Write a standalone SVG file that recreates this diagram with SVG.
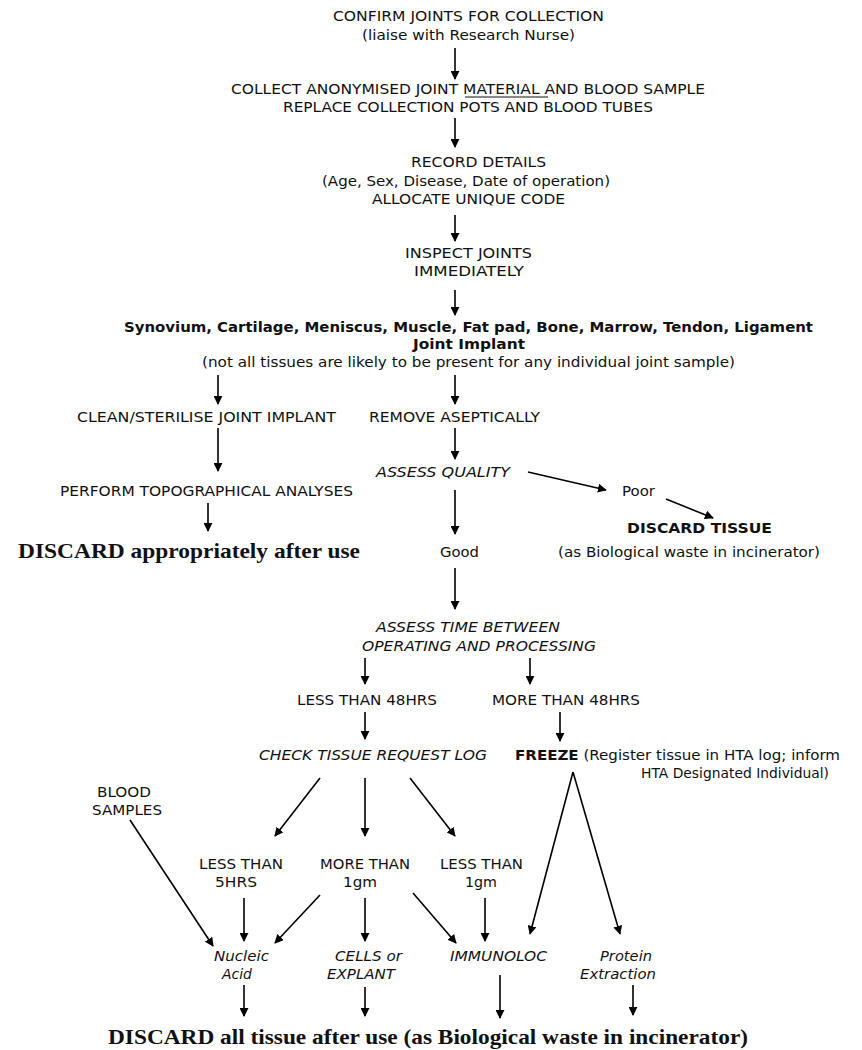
<svg xmlns="http://www.w3.org/2000/svg" width="862" height="1050" viewBox="0 0 862 1050">
<style>
text{font-family:"DejaVu Sans","Verdana",sans-serif;font-size:13.5px;fill:#111}
.it{font-style:italic}
.b{font-weight:bold}
.tb{font-family:"Liberation Serif","Times New Roman",serif;font-weight:bold;font-size:22px}
.c line{stroke:#000;stroke-width:1.6;marker-end:url(#ah)}
</style>
<defs>
<marker id="ah" viewBox="0 0 10 10" refX="9" refY="5" markerWidth="9" markerHeight="9" markerUnits="userSpaceOnUse" orient="auto">
<path d="M0,0 L10,5 L0,10 z" fill="#000"/>
</marker>
</defs>
<rect width="862" height="1050" fill="#fff"/>
<g id="n-confirm">
<text x="333" y="21" textLength="271" lengthAdjust="spacingAndGlyphs">CONFIRM JOINTS FOR COLLECTION</text>
<text x="362" y="40" textLength="213" lengthAdjust="spacingAndGlyphs">(liaise with Research Nurse)</text>
</g>
<g id="n-collect">
<text x="231" y="94" textLength="474" lengthAdjust="spacingAndGlyphs">COLLECT ANONYMISED JOINT MATERIAL AND BLOOD SAMPLE</text>
<line x1="465" y1="97" x2="548" y2="97" stroke="#111" stroke-width="1"/>
<text x="283" y="112" textLength="370" lengthAdjust="spacingAndGlyphs">REPLACE COLLECTION POTS AND BLOOD TUBES</text>
</g>
<g id="n-record">
<text x="411" y="167" textLength="135" lengthAdjust="spacingAndGlyphs">RECORD DETAILS</text>
<text x="322" y="186" textLength="288" lengthAdjust="spacingAndGlyphs">(Age, Sex, Disease, Date of operation)</text>
<text x="372" y="204" textLength="193" lengthAdjust="spacingAndGlyphs">ALLOCATE UNIQUE CODE</text>
</g>
<g id="n-inspect">
<text x="405" y="258" textLength="127" lengthAdjust="spacingAndGlyphs">INSPECT JOINTS</text>
<text x="414" y="276" textLength="110" lengthAdjust="spacingAndGlyphs">IMMEDIATELY</text>
</g>
<g id="n-tissues">
<text class="b" x="124" y="332" textLength="689" lengthAdjust="spacingAndGlyphs">Synovium, Cartilage, Meniscus, Muscle, Fat pad, Bone, Marrow, Tendon, Ligament</text>
<text class="b" x="413" y="349" textLength="112" lengthAdjust="spacingAndGlyphs">Joint Implant</text>
<text x="202" y="367" textLength="533" lengthAdjust="spacingAndGlyphs">(not all tissues are likely to be present for any individual joint sample)</text>
</g>
<g id="n-clean">
<text x="77" y="422" textLength="259" lengthAdjust="spacingAndGlyphs">CLEAN/STERILISE JOINT IMPLANT</text>
</g>
<g id="n-remove">
<text x="369" y="422" textLength="171" lengthAdjust="spacingAndGlyphs">REMOVE ASEPTICALLY</text>
</g>
<g id="n-assessq">
<text class="it" x="376" y="477" textLength="134" lengthAdjust="spacingAndGlyphs">ASSESS QUALITY</text>
</g>
<g id="n-poor">
<text x="622" y="496" textLength="33" lengthAdjust="spacingAndGlyphs">Poor</text>
</g>
<g id="n-discardtissue">
<text class="b" x="627" y="533" textLength="145" lengthAdjust="spacingAndGlyphs">DISCARD TISSUE</text>
<text x="558" y="557" textLength="262" lengthAdjust="spacingAndGlyphs">(as Biological waste in incinerator)</text>
</g>
<g id="n-perform">
<text x="60" y="496" textLength="293" lengthAdjust="spacingAndGlyphs">PERFORM TOPOGRAPHICAL ANALYSES</text>
</g>
<g id="n-discard1">
<text class="tb" x="18" y="558" textLength="342" lengthAdjust="spacingAndGlyphs">DISCARD appropriately after use</text>
</g>
<g id="n-good">
<text x="440" y="557" textLength="39" lengthAdjust="spacingAndGlyphs">Good</text>
</g>
<g id="n-assesstime">
<text class="it" x="376" y="632" textLength="184" lengthAdjust="spacingAndGlyphs">ASSESS TIME BETWEEN</text>
<text class="it" x="362" y="651" textLength="234" lengthAdjust="spacingAndGlyphs">OPERATING AND PROCESSING</text>
</g>
<g id="n-less48">
<text x="297" y="705" textLength="140" lengthAdjust="spacingAndGlyphs">LESS THAN 48HRS</text>
</g>
<g id="n-more48">
<text x="492" y="705" textLength="148" lengthAdjust="spacingAndGlyphs">MORE THAN 48HRS</text>
</g>
<g id="n-check">
<text class="it" x="259" y="760" textLength="228" lengthAdjust="spacingAndGlyphs">CHECK TISSUE REQUEST LOG</text>
</g>
<g id="n-freeze">
<text x="515" y="760" textLength="325" lengthAdjust="spacingAndGlyphs"><tspan class="b">FREEZE</tspan> (Register tissue in HTA log; inform</text>
<text x="641" y="778" textLength="188" lengthAdjust="spacingAndGlyphs">HTA Designated Individual)</text>
</g>
<g id="n-blood">
<text x="97" y="797" textLength="54" lengthAdjust="spacingAndGlyphs">BLOOD</text>
<text x="92" y="815" textLength="70" lengthAdjust="spacingAndGlyphs">SAMPLES</text>
</g>
<g id="n-less5">
<text x="199" y="869" textLength="84" lengthAdjust="spacingAndGlyphs">LESS THAN</text>
<text x="215" y="887" textLength="42" lengthAdjust="spacingAndGlyphs">5HRS</text>
</g>
<g id="n-more1">
<text x="320" y="869" textLength="90" lengthAdjust="spacingAndGlyphs">MORE THAN</text>
<text x="343" y="887" textLength="34" lengthAdjust="spacingAndGlyphs">1gm</text>
</g>
<g id="n-less1">
<text x="440" y="869" textLength="83" lengthAdjust="spacingAndGlyphs">LESS THAN</text>
<text x="465" y="887" textLength="32" lengthAdjust="spacingAndGlyphs">1gm</text>
</g>
<g id="n-nucleic">
<text class="it" x="214" y="961" textLength="55" lengthAdjust="spacingAndGlyphs">Nucleic</text>
<text class="it" x="222" y="979" textLength="30" lengthAdjust="spacingAndGlyphs">Acid</text>
</g>
<g id="n-cells">
<text class="it" x="335" y="961" textLength="67" lengthAdjust="spacingAndGlyphs">CELLS or</text>
<text class="it" x="327" y="979" textLength="68" lengthAdjust="spacingAndGlyphs">EXPLANT</text>
</g>
<g id="n-immuno">
<text class="it" x="450" y="961" textLength="97" lengthAdjust="spacingAndGlyphs">IMMUNOLOC</text>
</g>
<g id="n-protein">
<text class="it" x="600" y="961" textLength="52" lengthAdjust="spacingAndGlyphs">Protein</text>
<text class="it" x="580" y="979" textLength="76" lengthAdjust="spacingAndGlyphs">Extraction</text>
</g>
<g id="n-discardall">
<text class="tb" x="108" y="1044" textLength="640" lengthAdjust="spacingAndGlyphs">DISCARD all tissue after use (as Biological waste in incinerator)</text>
</g>
<g id="connectors" class="c">
<line x1="455" y1="48" x2="455" y2="79"/>
<line x1="455" y1="118" x2="455" y2="147"/>
<line x1="455" y1="215" x2="455" y2="241"/>
<line x1="455" y1="290" x2="455" y2="315"/>
<line x1="218" y1="375" x2="218" y2="404"/>
<line x1="455" y1="375" x2="455" y2="404"/>
<line x1="218" y1="428" x2="218" y2="471"/>
<line x1="455" y1="428" x2="455" y2="459"/>
<line x1="528" y1="472" x2="606" y2="490"/>
<line x1="666" y1="499" x2="713" y2="518"/>
<line x1="208" y1="503" x2="208" y2="531"/>
<line x1="455" y1="490" x2="455" y2="534"/>
<line x1="455" y1="568" x2="455" y2="609"/>
<line x1="365" y1="658" x2="365" y2="684"/>
<line x1="530" y1="658" x2="530" y2="684"/>
<line x1="365" y1="712" x2="365" y2="739"/>
<line x1="560" y1="712" x2="560" y2="741"/>
<line x1="320" y1="778" x2="275" y2="836"/>
<line x1="365" y1="778" x2="365" y2="836"/>
<line x1="410" y1="778" x2="455" y2="836"/>
<line x1="573" y1="772" x2="530" y2="934"/>
<line x1="573" y1="772" x2="620" y2="934"/>
<line x1="244" y1="898" x2="244" y2="941"/>
<line x1="320" y1="895" x2="275" y2="943"/>
<line x1="365" y1="898" x2="365" y2="941"/>
<line x1="413" y1="893" x2="456" y2="943"/>
<line x1="485" y1="898" x2="485" y2="941"/>
<line x1="130" y1="820" x2="213" y2="946"/>
<line x1="244" y1="985" x2="244" y2="1016"/>
<line x1="365" y1="987" x2="365" y2="1016"/>
<line x1="500" y1="975" x2="500" y2="1018"/>
<line x1="633" y1="985" x2="633" y2="1015"/>
</g>
</svg>
